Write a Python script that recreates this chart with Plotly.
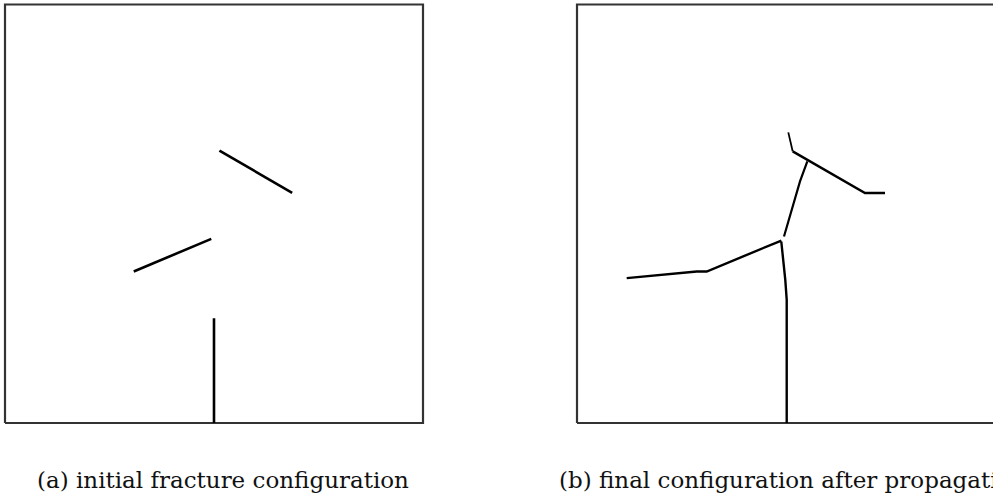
import plotly.graph_objects as go

# Panel (a): initial fracture configuration (unit square domain)
box_x = [0, 1, 1, 0, 0]
box_y = [0, 0, 1, 1, 0]

a_vert_x = [0.500, 0.500]
a_vert_y = [0.000, 0.250]
a_mid_x = [0.308, 0.4935]
a_mid_y = [0.362, 0.440]
a_up_x = [0.513, 0.687]
a_up_y = [0.651, 0.550]

# Panel (b): final configuration after propagation
b_vert_x = [0.5017, 0.5017, 0.4983, 0.4935, 0.4904, 0.4887]
b_vert_y = [0.0000, 0.2943, 0.3421, 0.3828, 0.4139, 0.4337]
b_left_x = [0.4890, 0.3103, 0.2864, 0.2464, 0.1986, 0.1507, 0.1189]
b_left_y = [0.4360, 0.3620, 0.3620, 0.3581, 0.3533, 0.3476, 0.3462]
b_link_x = [0.4952, 0.5256, 0.5335, 0.5510]
b_link_y = [0.4457, 0.5533, 0.5773, 0.6251]
b_up_x = [0.5160, 0.6890, 0.7368]
b_up_y = [0.6490, 0.5495, 0.5495]
b_kink_x = [0.5055, 0.5160]
b_kink_y = [0.6945, 0.6490]

captions = ["(a) initial fracture configuration",
            "(b) final configuration after propagation"]

W, H = 993, 498
S = 418.0          # pixels per unit
PAD = 0.01

fig = go.Figure()

def add(x, y, xa, ya, color="#000000", width=2.6):
    fig.add_trace(go.Scatter(x=x, y=y, mode="lines", xaxis=xa, yaxis=ya,
                             line=dict(color=color, width=width),
                             hoverinfo="skip", showlegend=False))

add(box_x, box_y, "x", "y", "#333333", 2.2)
add(a_vert_x, a_vert_y, "x", "y")
add(a_mid_x, a_mid_y, "x", "y")
add(a_up_x, a_up_y, "x", "y")

add(box_x, box_y, "x2", "y2", "#333333", 2.2)
add(b_vert_x, b_vert_y, "x2", "y2", width=2.4)
add(b_left_x, b_left_y, "x2", "y2", width=2.4)
add(b_link_x, b_link_y, "x2", "y2", width=2.2)
add(b_up_x, b_up_y, "x2", "y2", width=2.4)
add(b_kink_x, b_kink_y, "x2", "y2", width=1.8)

# pixel placement of boxes
ax_left, bx_left = 5.0, 577.0
top_px, bot_px = 4.5, 423.0

ydom = [(H - (bot_px + PAD * S)) / H, (H - (top_px - PAD * S)) / H]

axis_common = dict(visible=False, showgrid=False, zeroline=False, fixedrange=True)

b_right_units = (W - bx_left) / S
fig.update_layout(
    width=W, height=H,
    margin=dict(l=0, r=0, t=0, b=0),
    paper_bgcolor="white", plot_bgcolor="white",
    xaxis=dict(domain=[max(ax_left - PAD * S, 0) / W, (ax_left + (1 + PAD) * S) / W],
               range=[-PAD, 1 + PAD], **axis_common),
    yaxis=dict(domain=ydom, range=[-PAD, 1 + PAD], **axis_common),
    xaxis2=dict(domain=[(bx_left - PAD * S) / W, 1.0], range=[-PAD, b_right_units], **axis_common),
    yaxis2=dict(domain=ydom, range=[-PAD, 1 + PAD], anchor="x2", **axis_common),
)

cap_font = dict(family="DejaVu Serif", size=23, color="#111111")
fig.add_annotation(text=captions[0], xref="paper", yref="paper",
                   x=35 / W, y=(H - 480) / H, xanchor="left", yanchor="middle",
                   showarrow=False, font=cap_font)
fig.add_annotation(text=captions[1], xref="paper", yref="paper",
                   x=557 / W, y=(H - 480) / H, xanchor="left", yanchor="middle",
                   showarrow=False, font=cap_font)

fig.write_html("out.html")
